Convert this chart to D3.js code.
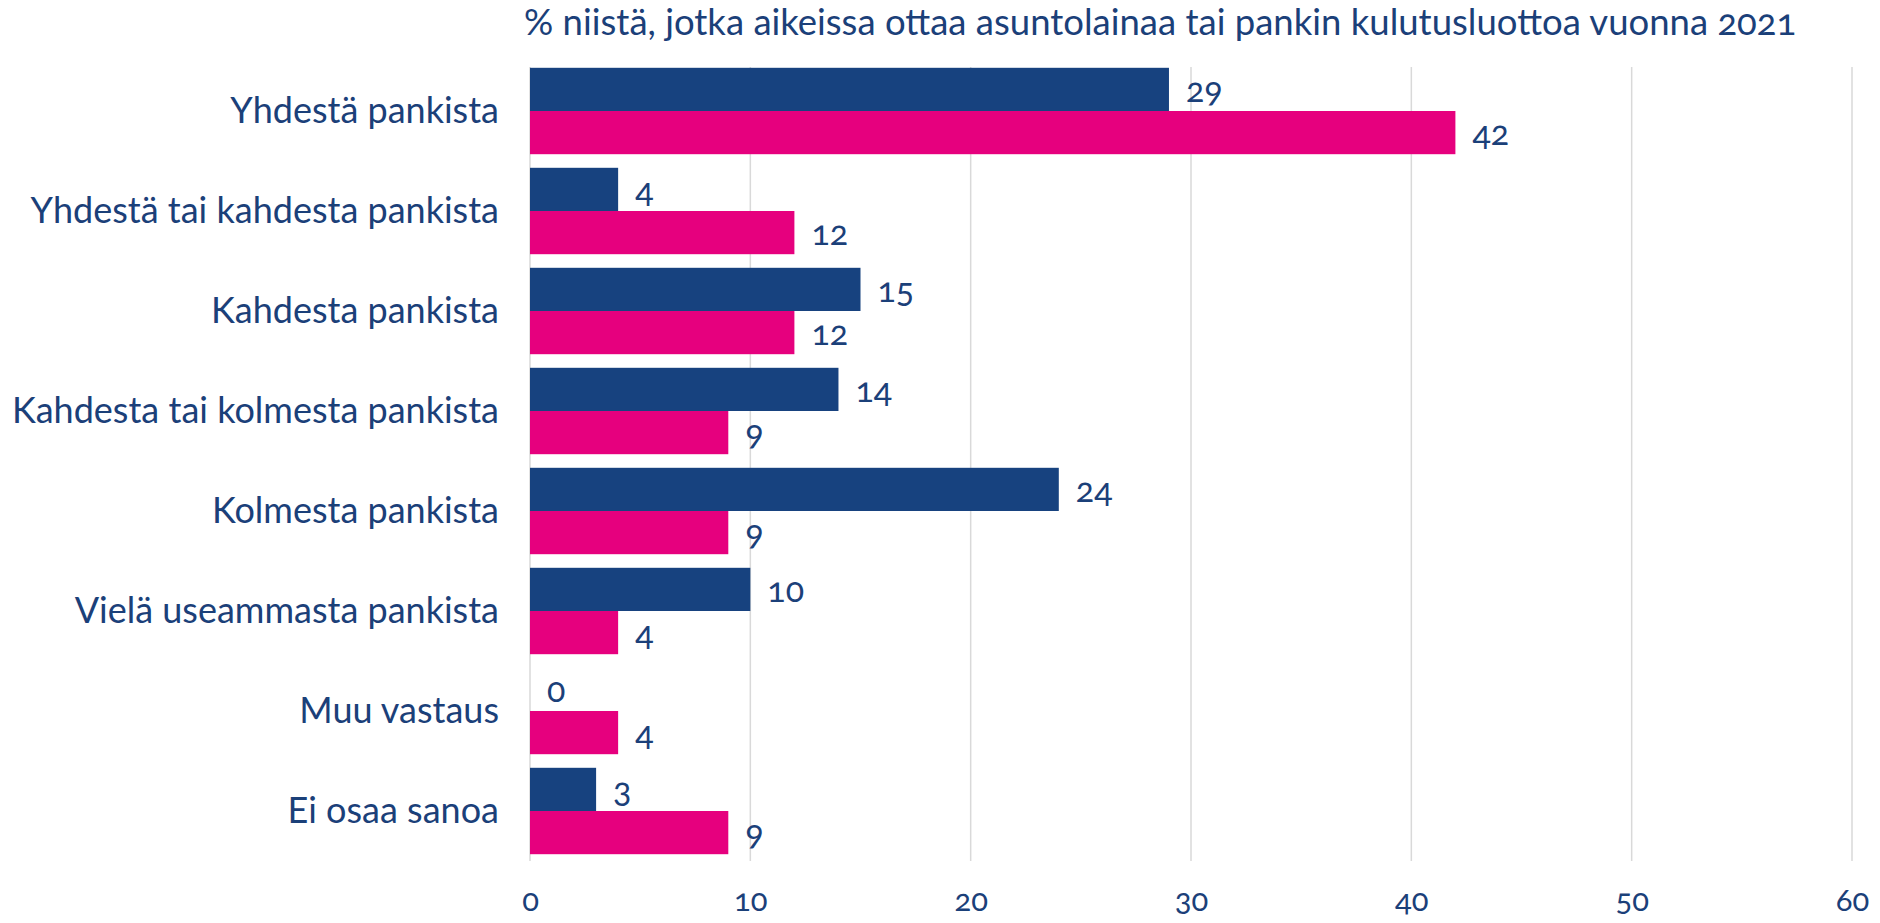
<!DOCTYPE html>
<html>
<head>
<meta charset="utf-8">
<script src="https://cdn.jsdelivr.net/npm/d3@7"></script>
<style>
  body { margin: 0; background: #fff; }
  text { font-family: Lato, "Open Sans", sans-serif; fill: #1b4079; font-variant-numeric: oldstyle-nums; }
</style>
</head>
<body>
<div id="chart"></div>
<script>
var title = '% niistä, jotka aikeissa ottaa asuntolainaa tai pankin kulutusluottoa vuonna 2021'

var categories = [
  'Yhdestä pankista',
  'Yhdestä tai kahdesta pankista',
  'Kahdesta pankista',
  'Kahdesta tai kolmesta pankista',
  'Kolmesta pankista',
  'Vielä useammasta pankista',
  'Muu vastaus',
  'Ei osaa sanoa'
]

var navyValues = [29, 4, 15, 14, 24, 10, 0, 3]
var pinkValues = [42, 12, 12, 9, 9, 4, 4, 9]
var tickValues = [0, 10, 20, 30, 40, 50, 60]

var width = 1880
var height = 923
var margin = { top: 61, right: 28, bottom: 62, left: 530 }

var svg = d3.select('#chart').append('svg')
  .attr('width', width)
  .attr('height', height)

// scales
var x = d3.scaleLinear()
  .domain([0, 60])
  .range([margin.left, width - margin.right])

var y = d3.scaleBand()
  .domain(categories)
  .range([margin.top, height - margin.bottom])
  .paddingInner(0.136)
  .paddingOuter(0.068)

var sub = d3.scaleBand()
  .domain(['navy', 'pink'])
  .range([0, y.bandwidth()])

// gridlines
svg.append('g')
  .selectAll('line')
  .data(tickValues)
  .join('line')
  .attr('x1', function (d) { return x(d) })
  .attr('x2', function (d) { return x(d) })
  .attr('y1', margin.top + 6)
  .attr('y2', height - margin.bottom)
  .attr('stroke', '#d9d9d9')
  .attr('stroke-width', 1.5)

// x axis labels
var xAxis = d3.axisBottom(x).tickValues(tickValues).tickSize(0).tickPadding(0)
var gx = svg.append('g')
  .attr('transform', 'translate(0,' + (height - margin.bottom) + ')')
  .call(xAxis)
gx.select('.domain').remove()
gx.selectAll('text')
  .attr('dy', null)
  .attr('y', 50)
  .style('font-size', '31px')
  .attr('fill', '#1b4079')

// category labels
var yAxis = d3.axisLeft(y).tickSize(0).tickPadding(31)
var gy = svg.append('g')
  .attr('transform', 'translate(' + margin.left + ',0)')
  .call(yAxis)
gy.select('.domain').remove()
gy.selectAll('text')
  .style('font-size', '36px')
  .attr('fill', '#1b4079')

var series = [
  { key: 'navy', values: navyValues, color: '#17427f' },
  { key: 'pink', values: pinkValues, color: '#e6007e' }
]

series.forEach(function (s) {
  var g = svg.append('g')
  g.selectAll('rect')
    .data(s.values)
    .join('rect')
    .attr('x', x(0))
    .attr('y', function (d, i) { return y(categories[i]) + sub(s.key) })
    .attr('width', function (d) { return x(d) - x(0) })
    .attr('height', sub.bandwidth())
    .attr('fill', s.color)

  g.selectAll('text')
    .data(s.values)
    .join('text')
    .attr('x', function (d) { return x(d) + 17 })
    .attr('y', function (d, i) { return y(categories[i]) + sub(s.key) + sub.bandwidth() / 2 + 4 })
    .attr('dominant-baseline', 'middle')
    .style('font-size', '34px')
    .text(function (d) { return d })
})

// title
svg.append('text')
  .attr('x', 524)
  .attr('y', 26)
  .attr('dominant-baseline', 'middle')
  .style('font-size', '36.5px')
  .text(title)
</script>
</body>
</html>
